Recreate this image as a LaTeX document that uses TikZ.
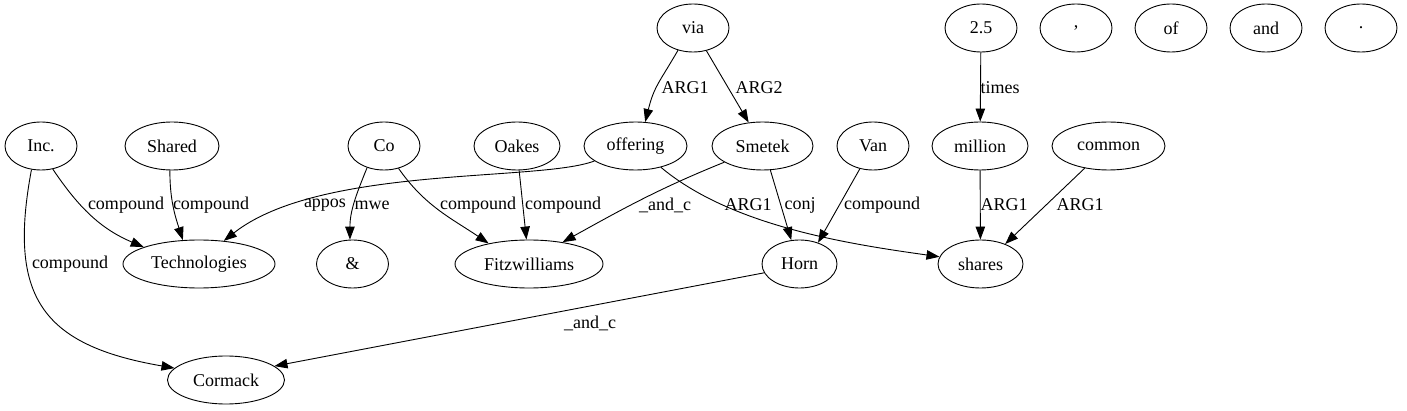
\documentclass[tikz,border=0pt]{standalone}
\usepackage{fontspec}
\setmainfont{Liberation Serif}
\usetikzlibrary{arrows.meta, shapes.geometric}
\tikzset{
    my-token/.style={
        ellipse, draw, line width=0.9pt, minimum height=48pt, minimum width=#1,
        inner sep=1pt, font=\rmfamily\fontsize{18}{20}\selectfont
    },
    my-token/.default=72pt,
    my-label/.style={
        inner sep=0pt, font=\rmfamily\fontsize{18}{20}\selectfont
    },
    my-edge/.style={
        line width=0.9pt, -{Triangle[length=13pt, width=9.5pt]}
    },
}

\begin{document}
\begin{tikzpicture}[x=1pt, y=1pt]

        \useasboundingbox (0, 0) rectangle (1407, -411);

        % TOP ROW
        \node[my-token] (VIA)     at (693, -28)  {via};
        \node[my-token] (TWOFIVE) at (981, -28)  {2.5};
        \node[my-token] (COMMA)   at (1076, -28) {,};
        \node[my-token] (OF)      at (1171, -28) {of};
        \node[my-token] (AND)     at (1266, -28) {and};
        \node[my-token] (PERIOD)  at (1361, -28) {.};

        % MIDDLE ROW
        \node[my-token]       (INC)      at (41, -146)     {Inc.};
        \node[my-token=94pt]  (SHARED)   at (172, -146)    {Shared};
        \node[my-token]       (CO)       at (384, -146)    {Co};
        \node[my-token=86pt]  (OAKES)    at (517, -146)    {Oakes};
        \node[my-token=103pt] (OFFERING) at (635.5, -146)  {offering};
        \node[my-token=101pt] (SMETEK)   at (762.5, -146)  {Smetek};
        \node[my-token]       (VAN)      at (873, -146)    {Van};
        \node[my-token=96pt]  (MILLION)  at (980, -146)    {million};
        \node[my-token=113pt] (COMMON)   at (1108.5, -146) {common};

        % BOTTOM ROWS
        \node[my-token=152pt] (TECH)    at (199, -264)   {Technologies};
        \node[my-token]       (AMP)     at (352.5, -264) {\&};
        \node[my-token=148pt] (FITZ)    at (529, -264)   {Fitzwilliams};
        \node[my-token=75pt]  (HORN)    at (799.5, -264) {Horn};
        \node[my-token=85pt]  (SHARES)  at (980.5, -264) {shares};
        \node[my-token=117pt] (CORMACK) at (226, -380)   {Cormack};

        % EDGES FROM THE TOP ROW
        \draw[my-edge] (VIA.-124) to[out=-120, in=76, looseness=1.2] (OFFERING.68);
        \draw[my-edge] (VIA) -- (SMETEK);
        \draw[my-edge] (TWOFIVE) -- (MILLION);

        % EDGES INTO TECHNOLOGIES AND CORMACK
        \draw[my-edge] (INC.-63) to[out=-56, in=157] (TECH.163);
        \draw[my-edge] (SHARED.-95) to[out=-90, in=108] (TECH.124);
        \draw[my-edge] (INC.-112) .. controls (8, -295) and (40, -345) .. (CORMACK.167);
        \draw[my-edge] (OFFERING.-160) .. controls (540, -182) and (320, -165) .. (TECH.43);
        \draw[my-edge] (HORN.-166) -- (CORMACK.16);

        % EDGES INTO AMP AND FITZWILLIAMS
        \draw[my-edge] (CO.-128) to[out=-112, in=90] (AMP.96);
        \draw[my-edge] (CO.-57) to[out=-55, in=146] (FITZ.153);
        \draw[my-edge] (OAKES.-85) -- (FITZ.96);
        \draw[my-edge] (SMETEK.-157) to[out=-158, in=29] (FITZ.33);

        % EDGES INTO HORN AND SHARES
        \draw[my-edge] (OFFERING.-40) to[out=-40, in=172, looseness=0.8] (SHARES.170);
        \draw[my-edge] (SMETEK.-72) -- (HORN.109);
        \draw[my-edge] (VAN.-120) -- (HORN.49);
        \draw[my-edge] (MILLION) -- (SHARES);
        \draw[my-edge] (COMMON.-137) -- (SHARES.39);

        % EDGE LABELS
        \node[my-label] (LVIAOFF)   at (685, -88)  {ARG1};
        \node[my-label] (LVIASME)   at (759, -88)  {ARG2};
        \node[my-label] (LTWOMIL)   at (1000, -88) {times};
        \node[my-label] (LINCTECH)  at (126, -205)  {compound};
        \node[my-label] (LSHATECH)  at (211, -205)  {compound};
        \node[my-label] (LINCCOR)   at (70, -264)   {compound};
        \node[my-label] (LOFFTECH)  at (325, -205)  {appos};
        \node[my-label] (LCOAMP)    at (372, -205)  {mwe};
        \node[my-label] (LCOFITZ)   at (478, -205)  {compound};
        \node[my-label] (LOAKFITZ)  at (563, -205)  {compound};
        \node[my-label] (LSMEFITZ)  at (665, -205)  {\_and\_c};
        \node[my-label] (LOFFSHA)   at (748, -205)  {ARG1};
        \node[my-label] (LSMEHORN)  at (800, -205)  {conj};
        \node[my-label] (LVANHORN)  at (882, -205)  {compound};
        \node[my-label] (LMILSHA)   at (1004, -205) {ARG1};
        \node[my-label] (LCOMSHA)   at (1080, -205) {ARG1};
        \node[my-label] (LHORNCOR)  at (590, -323)  {\_and\_c};

    \end{tikzpicture}
\end{document}
